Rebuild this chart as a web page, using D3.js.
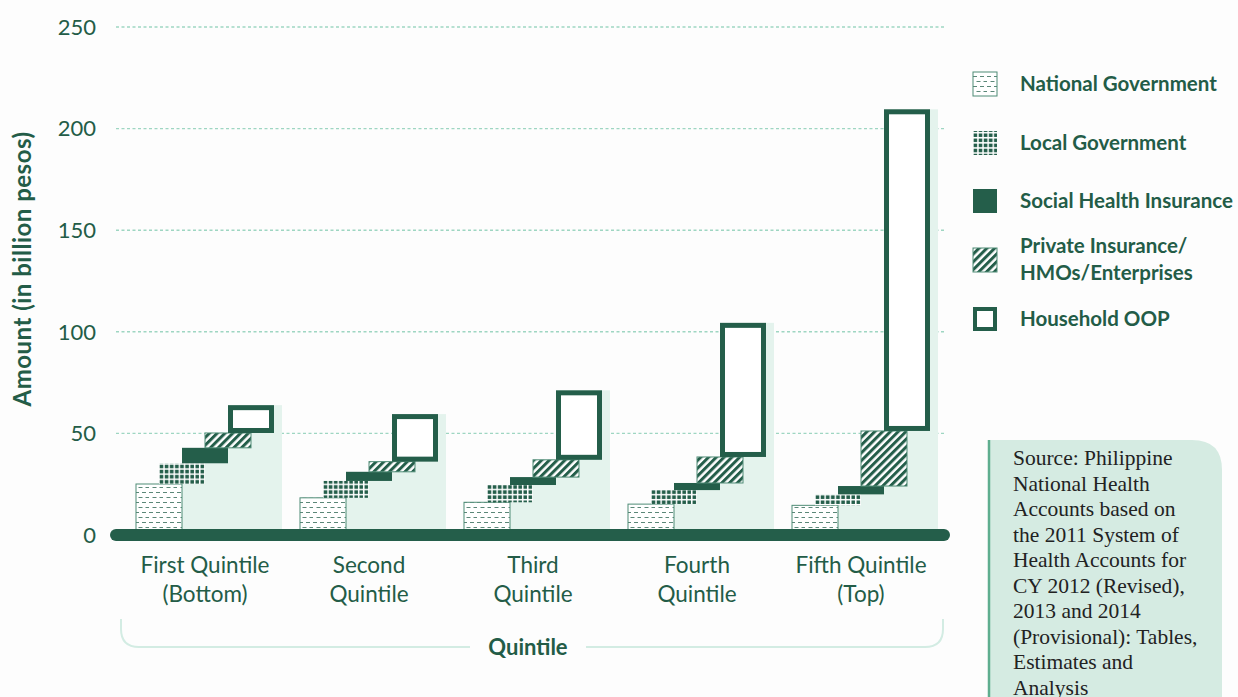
<!DOCTYPE html>
<meta charset="utf-8">
<style>
body { margin: 0; background: #fdfdfd; }
svg { display: block; }
.tick-label { font: 400 22px Lato, sans-serif; fill: #235c47; }
.x-label { font: 400 22.5px Lato, sans-serif; fill: #235c47; }
.legend text { font: 700 20.5px Lato, sans-serif; fill: #235c47; }
.axis-title { font: 700 22px Lato, sans-serif; fill: #235c47; }
.source text { font: 21.5px "Liberation Serif", serif; fill: #222; }
</style>
<body>
<svg width="1238" height="697"></svg>
<script src="https://d3js.org/d3.v7.min.js"></script>
<script>

// data (billion pesos)
var quintiles = ["First", "Second", "Third", "Fourth", "Fifth"];
var quintileLabels = [["First Quintile", "(Bottom)"], ["Second", "Quintile"], ["Third", "Quintile"], ["Fourth", "Quintile"], ["Fifth Quintile", "(Top)"]];
var seriesNames = ["National Government", "Local Government", "Social Health Insurance", "Private Insurance/HMOs/Enterprises", "Household OOP"];
var nationalGov = [25.1, 18.3, 16.1, 15.2, 14.6];
var localGov = [10.2, 8.3, 8.5, 6.9, 5.4];
var socialIns = [7.6, 4.5, 3.9, 3.5, 4.1];
var privateIns = [7.3, 5.0, 8.5, 12.8, 27.1];
var householdOOP = [13.7, 23.4, 34.2, 66.0, 158.3];
var yTicks = [0, 50, 100, 150, 200, 250];
var sourceLines = ["Source: Philippine", "National Health", "Accounts based on", "the 2011 System of", "Health Accounts for", "CY 2012 (Revised),", "2013 and 2014", "(Provisional): Tables,", "Estimates and", "Analysis"];

var dark = "#245e4a";

var svg = d3.select("svg");
var defs = svg.append("defs");

// patterns
var pNat = defs.append("pattern").attr("id", "pat-nat")
    .attr("patternUnits", "userSpaceOnUse").attr("width", 14).attr("height", 10);
pNat.append("rect").attr("width", 14).attr("height", 10).attr("fill", "#fff");
pNat.append("path").attr("d", "M0,2.5h4M7,2.5h4M3.5,7.5h4M10.5,7.5h4")
    .attr("stroke", dark).attr("stroke-width", 1.2).attr("stroke-opacity", 0.75);

var pLoc = defs.append("pattern").attr("id", "pat-loc")
    .attr("patternUnits", "userSpaceOnUse").attr("width", 5.1).attr("height", 5.1);
pLoc.append("rect").attr("width", 5.1).attr("height", 5.1).attr("fill", "#fff");
pLoc.append("rect").attr("x", 0.6).attr("y", 0.6).attr("width", 3.6).attr("height", 3.6).attr("fill", dark);

var pPri = defs.append("pattern").attr("id", "pat-pri")
    .attr("patternUnits", "userSpaceOnUse").attr("width", 5.5).attr("height", 10)
    .attr("patternTransform", "rotate(45)");
pPri.append("rect").attr("width", 5.5).attr("height", 10).attr("fill", "#fff");
pPri.append("rect").attr("width", 3).attr("height", 10).attr("fill", dark);

var fills = ["url(#pat-nat)", "url(#pat-loc)", dark, "url(#pat-pri)", "#fff"];

var x = d3.scaleBand().domain(quintiles).range([123, 943]);
var inner = d3.scalePoint().domain(seriesNames).range([-69, 23]);
var barW = 46;
var y = d3.scaleLinear().domain([0, 250]).range([535, 27]);

// gridlines + tick labels
svg.append("g").selectAll("line")
    .data(yTicks.filter(function(d) { return d > 0; }))
    .enter().append("line")
      .attr("x1", 116).attr("x2", 945)
      .attr("y1", function(d) { return y(d); }).attr("y2", function(d) { return y(d); })
      .attr("stroke", "#9ed6c2").attr("stroke-width", 1.4).attr("stroke-dasharray", "3,2.5");

svg.append("g").selectAll("text")
    .data(yTicks)
    .enter().append("text")
      .attr("class", "tick-label")
      .attr("x", 96).attr("y", function(d) { return y(d); })
      .attr("dy", "0.35em").attr("text-anchor", "end")
      .text(function(d) { return d; });

svg.append("text").attr("class", "axis-title")
    .attr("transform", "translate(31,269) rotate(-90)")
    .attr("text-anchor", "middle")
    .style("font-size", "24px").style("letter-spacing", "0.5px")
    .text("Amount (in billion pesos)");

// build waterfall rows
var seriesValues = [nationalGov, localGov, socialIns, privateIns, householdOOP];
var groups = quintiles.map(function(q, qi) {
  var acc = 0;
  var bars = seriesNames.map(function(s, si) {
    var v = seriesValues[si][qi];
    var b = { series: s, si: si, y0: acc, y1: acc + v };
    acc += v;
    return b;
  });
  return { q: q, qi: qi, total: acc, bars: bars };
});

var g = svg.append("g").selectAll("g")
    .data(groups)
    .enter().append("g")
      .attr("transform", function(d) { return "translate(" + (x(d.q) + x.bandwidth() / 2) + ",0)"; });

// light stair-step shade under the steps
g.selectAll(".shade")
    .data(function(d) { return d.bars.filter(function(b) { return b.si > 0; }); })
    .enter().append("rect")
      .attr("class", "shade")
      .attr("x", function(d) { return inner(d.series); })
      .attr("width", function(d) { return d.si === 4 ? barW + 8 : barW; })
      .attr("y", function(d) { return y(d.y1); })
      .attr("height", function(d) { return y(0) - y(d.y1); })
      .attr("fill", "#e4f3ed");

g.selectAll(".bar")
    .data(function(d) { return d.bars; })
    .enter().append("rect")
      .attr("class", "bar")
      .each(function(d) {
        var r = d3.select(this);
        var x0 = inner(d.series), top = y(d.y1), h = y(d.y0) - y(d.y1);
        if (d.si === 4) {
          r.attr("x", x0 + 2.5).attr("y", top + 2.5).attr("width", barW - 5).attr("height", h - 5)
           .attr("fill", "#fff").attr("stroke", dark).attr("stroke-width", 5);
        } else {
          r.attr("x", x0).attr("y", top).attr("width", barW).attr("height", h)
           .attr("fill", fills[d.si]);
          if (d.si === 0 || d.si === 3) r.attr("stroke", "#4f8c76").attr("stroke-width", 1);
        }
      });

// zero line
svg.append("line")
    .attr("x1", 116).attr("x2", 944)
    .attr("y1", y(0)).attr("y2", y(0))
    .attr("stroke", dark).attr("stroke-width", 12).attr("stroke-linecap", "round");

// x labels
var xl = svg.append("g").selectAll("text")
    .data(quintiles)
    .enter().append("text")
      .attr("class", "x-label")
      .attr("text-anchor", "middle")
      .attr("transform", function(d) { return "translate(" + (x(d) + x.bandwidth() / 2) + ",573)"; });
xl.selectAll("tspan")
    .data(function(d, i) { return quintileLabels[i]; })
    .enter().append("tspan")
      .attr("x", 0).attr("dy", function(d, i) { return i ? 29 : 0; })
      .text(function(d) { return d; });

// bracket + axis title
svg.append("path")
    .attr("d", "M121,619V629Q121,647 139,647H470M586,647H925Q943,647 943,629V619")
    .attr("fill", "none").attr("stroke", "#d3ece3").attr("stroke-width", 2);
svg.append("text").attr("class", "axis-title")
    .attr("x", 528).attr("y", 655).attr("text-anchor", "middle")
    .text("Quintile");

// legend
var legendY = [84, 143, 201, 260, 319];
var legend = svg.append("g").attr("class", "legend").selectAll("g")
    .data(seriesNames)
    .enter().append("g")
      .attr("transform", function(d, i) { return "translate(973," + legendY[i] + ")"; });
legend.append("rect")
    .each(function(d, i) {
      var r = d3.select(this);
      if (i === 4) {
        r.attr("x", 2).attr("y", -10).attr("width", 20).attr("height", 20)
         .attr("fill", "#fff").attr("stroke", dark).attr("stroke-width", 4);
      } else {
        r.attr("x", 0).attr("y", -12).attr("width", 24).attr("height", 24).attr("fill", fills[i]);
        if (i === 0 || i === 3) r.attr("stroke", "#4f8c76").attr("stroke-width", 1);
      }
    });
legend.append("text")
    .attr("x", 47)
    .each(function(d, i) {
      var t = d3.select(this);
      if (i === 3) {
        t.append("tspan").attr("x", 47).attr("y", -14).attr("dy", "0.35em").text("Private Insurance/");
        t.append("tspan").attr("x", 47).attr("y", 13).attr("dy", "0.35em").text("HMOs/Enterprises");
      } else {
        t.attr("y", 0).attr("dy", "0.35em").text(d);
      }
    });

// source box
var src = svg.append("g").attr("class", "source");
src.append("path")
    .attr("d", "M988,440H1192Q1222,440 1222,470V697H988Z")
    .attr("fill", "#d5ebe2");
src.append("line").attr("x1", 989).attr("x2", 989).attr("y1", 440).attr("y2", 697)
    .attr("stroke", "#5fae8f").attr("stroke-width", 2.5);
src.append("text").selectAll("tspan")
    .data(sourceLines)
    .enter().append("tspan")
      .attr("x", 1013).attr("y", function(d, i) { return 465 + i * 25.5; })
      .text(function(d) { return d; });

</script>
</body>
